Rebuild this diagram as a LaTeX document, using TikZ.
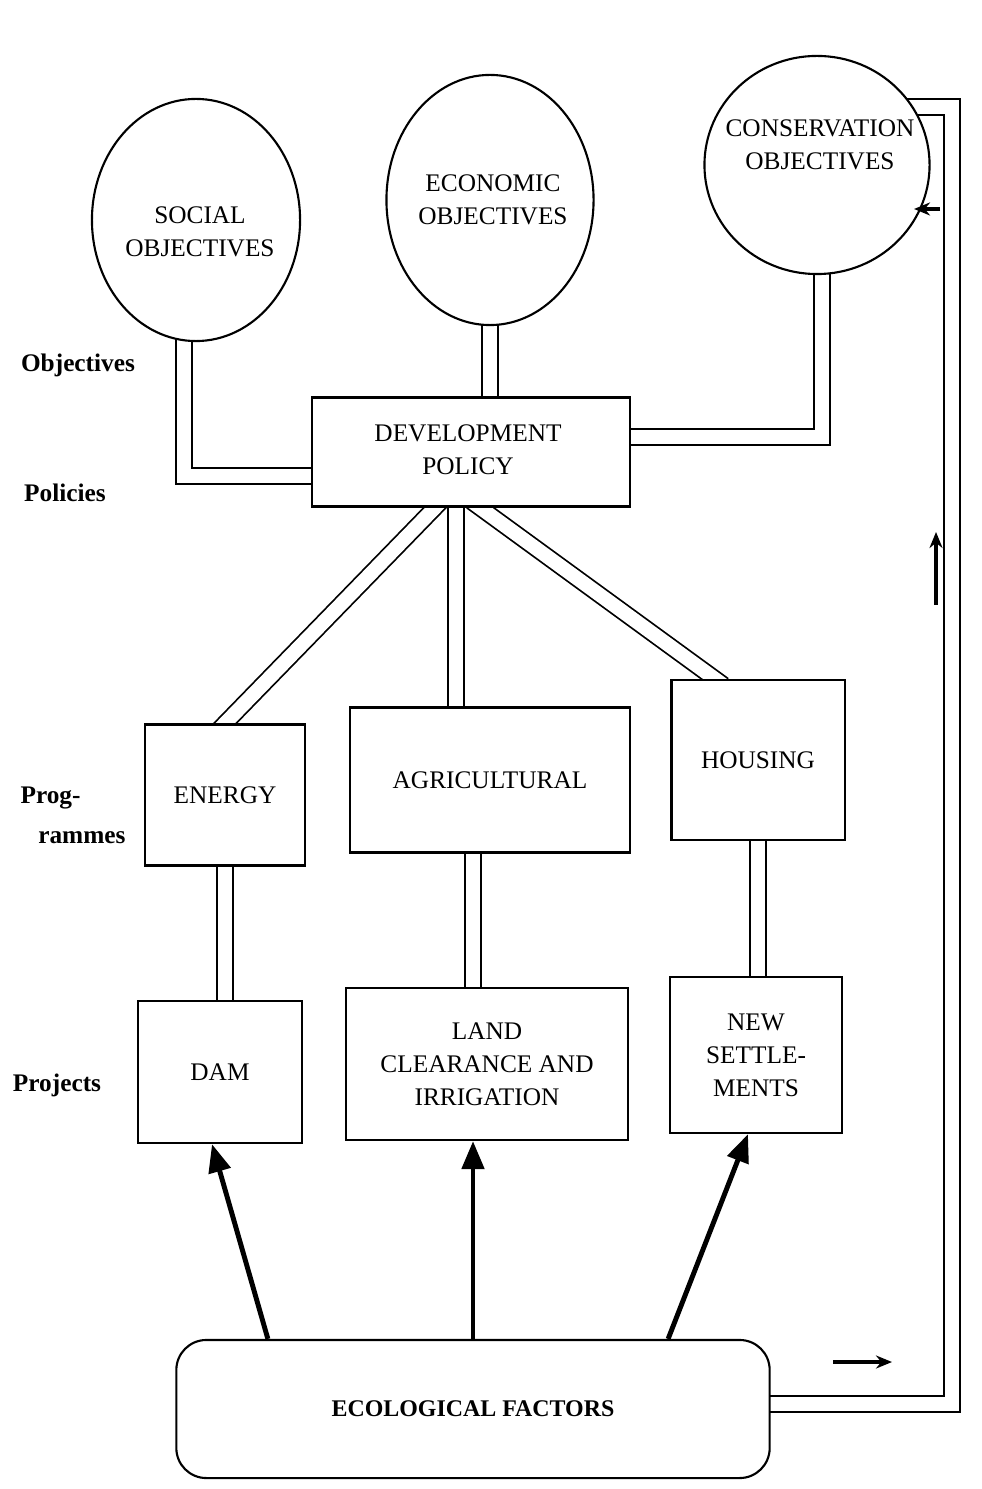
\documentclass[tikz,border=0pt]{standalone}
\usepackage{fontspec}
\setmainfont{Liberation Serif}
\usetikzlibrary{shapes.geometric,arrows.meta,backgrounds}

\begin{document}
\begin{tikzpicture}[x=0.01cm, y=-0.01cm,
    font=\fontsize{7.2}{9.4}\selectfont,
    obj/.style={draw, fill=white, line width=0.6pt, ellipse, inner sep=0pt},
    box/.style={draw, fill=white, line width=0.6pt, rectangle, align=center, inner sep=0pt},
    level/.style={font=\fontsize{7.2}{9.4}\selectfont\bfseries, align=left, inner sep=0pt},
    link/.style={line width=0.5pt, double, double distance=4pt, shorten >=-3pt, shorten <=-3pt},
    push/.style={line width=1.4pt, -{Triangle[length=2.8mm, width=2.2mm]}},
    flow/.style={line width=0.9pt, -{Stealth[length=1.6mm, width=1.3mm]}}]
    \useasboundingbox (0,0) rectangle (981,1489);

    % objectives
    \node[obj, minimum width=2.08cm, minimum height=2.42cm] (social) at (196,220) {};
    \node[obj, minimum width=2.07cm, minimum height=2.5cm] (econ) at (490,200) {};
    \node[obj, minimum width=2.25cm, minimum height=2.18cm] (cons) at (817,165) {};
    \node[align=center] (soctxt) at (200,232) {SOCIAL\\OBJECTIVES};
    \node[align=center] (econtxt) at (493,200) {ECONOMIC\\OBJECTIVES};
    \node[align=center] (constxt) at (820,145) {CONSERVATION\\OBJECTIVES};

    % policy
    \node[box, minimum width=3.17cm, minimum height=1.09cm] (dev) at (471,452) {};
    \node[align=center] (devtxt) at (468,450) {DEVELOPMENT\\POLICY};

    % programmes
    \node[box, minimum width=1.6cm, minimum height=1.41cm] (energy) at (225,795) {ENERGY};
    \node[box, minimum width=2.8cm, minimum height=1.45cm] (agri) at (490,780) {AGRICULTURAL};
    \node[box, minimum width=1.73cm, minimum height=1.6cm] (housing) at (758,760) {HOUSING};

    % projects
    \node[box, minimum width=1.64cm, minimum height=1.42cm] (dam) at (220,1072) {DAM};
    \node[box, minimum width=2.81cm, minimum height=1.52cm] (land) at (487,1064) {LAND\\CLEARANCE AND\\IRRIGATION};
    \node[box, minimum width=1.72cm, minimum height=1.56cm] (newset) at (756,1055) {NEW\\SETTLE-\\MENTS};

    \node[box, rounded corners=0.3cm, minimum width=5.93cm, minimum height=1.38cm,
        font=\fontsize{6.8}{9}\selectfont\bfseries] (eco) at (473,1409) {ECOLOGICAL FACTORS};

    % levels
    \node[level] (lobj) at (78,365) {Objectives};
    \node[level] (lpol) at (65,493) {Policies};
    \node[level] (lprog) at (73,815) {Prog-\\[2pt]\hspace*{0.7em}rammes};
    \node[level] (lproj) at (57,1085) {Projects};

    \coordinate (fbx) at (952,800);
    \coordinate (f1) at (940,209);  \coordinate (f1e) at (914,209);
    \coordinate (f2) at (936,605);  \coordinate (f2e) at (936,532);
    \coordinate (f3) at (833,1362); \coordinate (f3e) at (892,1362);

    \begin{scope}[on background layer]
        \draw[link] ([xshift=-0.12cm]social.south) |- ([yshift=-0.24cm]dev.west);
        \draw[link] (econ.south) -- (econ.south |- dev.north);
        \draw[link] ([xshift=0.05cm]cons.south) |- ([yshift=0.15cm]dev.east);
        \draw[link] ([xshift=-0.36cm]dev.south) -- (energy.north);
        \draw[link] ([xshift=-0.15cm]dev.south) -- ([xshift=-0.15cm]dev.south |- agri.north);
        \draw[link] ([xshift=0.09cm]dev.south) -- ([xshift=-0.43cm]housing.north);
        \draw[link] (energy.south) -- (energy.south |- dam.north);
        \draw[link] ([xshift=-0.17cm]agri.south) -- ([xshift=-0.17cm]agri.south |- land.north);
        \draw[link] (housing.south) -- (housing.south |- newset.north);
        \draw[link] ([yshift=0.05cm]eco.east) -| (fbx |- cons.31) -- (cons.31);
    \end{scope}

    \draw[push] ([xshift=-2.05cm]eco.north) -- ([xshift=-0.08cm]dam.south);
    \draw[push] (eco.north) -- (eco.north |- land.south);
    \draw[push] ([xshift=1.95cm]eco.north) -- ([xshift=-0.08cm]newset.south);

    \draw[flow] (f1) -- (f1e);
    \draw[flow] (f2) -- (f2e);
    \draw[flow] (f3) -- (f3e);
\end{tikzpicture}
\end{document}
